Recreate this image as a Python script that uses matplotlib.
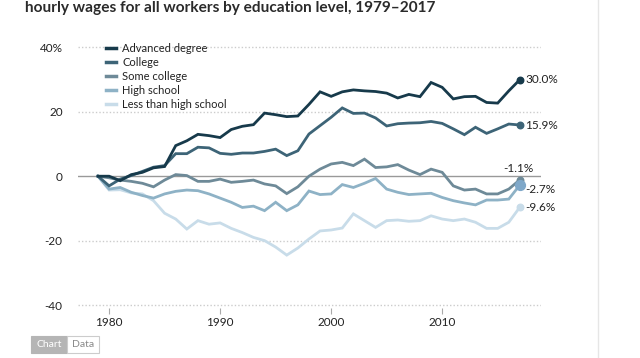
import numpy as np
import matplotlib
matplotlib.use('Agg')
import matplotlib.pyplot as plt
from matplotlib.patches import Rectangle
from matplotlib.lines import Line2D

plt.rcParams['font.family'] = ['Lato', 'DejaVu Sans']

years = np.arange(1979, 2018)

advanced = [0, 0, -1.4, 0.5, 1.2, 2.6, 3.0, 9.5, 11.0, 13.0, 12.6, 12.0, 14.5, 15.5, 16.0,
            19.6, 19.1, 18.5, 18.7, 22.3, 26.2, 24.8, 26.2, 26.8, 26.5, 26.3, 25.8, 24.3,
            25.4, 24.7, 29.1, 27.6, 24.0, 24.7, 24.8, 22.9, 22.7, 26.5, 30.0]
college = [0, -3.0, -0.9, 0.2, 1.5, 2.8, 3.3, 7.0, 7.0, 9.0, 8.8, 7.1, 6.8, 7.2, 7.2,
           7.7, 8.4, 6.4, 7.9, 13.1, 15.7, 18.3, 21.2, 19.5, 19.6, 18.1, 15.6, 16.3,
           16.5, 16.6, 17.0, 16.4, 14.7, 12.9, 15.2, 13.3, 14.7, 16.2, 15.9]
some_college = [0, -0.5, -1.2, -1.6, -2.2, -3.3, -1.2, 0.5, 0.2, -1.6, -1.6, -0.9, -1.9, -1.6,
                -1.2, -2.4, -3.0, -5.4, -3.3, 0.0, 2.2, 3.8, 4.3, 3.3, 5.3, 2.7, 2.9, 3.6,
                1.9, 0.5, 2.2, 1.2, -3.0, -4.3, -4.0, -5.5, -5.5, -4.0, -1.1]
high_school = [0, -4.0, -3.5, -5.0, -6.0, -6.8, -5.5, -4.7, -4.3, -4.5, -5.5, -6.8, -8.1, -9.7,
               -9.3, -10.7, -8.1, -10.7, -8.9, -4.6, -5.7, -5.5, -2.6, -3.5, -2.2, -0.7, -4.0,
               -5.0, -5.7, -5.5, -5.3, -6.6, -7.6, -8.3, -8.9, -7.4, -7.4, -7.1, -2.7]
less_hs = [0, -4.3, -4.2, -5.2, -5.5, -7.6, -11.5, -13.3, -16.4, -13.8, -14.9, -14.5, -16.2,
           -17.5, -19.0, -20.0, -22.0, -24.5, -22.3, -19.5, -17.0, -16.7, -16.1, -11.7, -13.8,
           -15.9, -13.8, -13.6, -14.0, -13.8, -12.3, -13.3, -13.8, -13.3, -14.3, -16.2, -16.2,
           -14.3, -9.6]

series_names = ['Advanced degree', 'College', 'Some college', 'High school', 'Less than high school']
series_values = [advanced, college, some_college, high_school, less_hs]
end_labels = ['30.0%', '15.9%', '-1.1%', '-2.7%', '-9.6%']
colors = ['#173a4b', '#3d6477', '#6e8a98', '#8eb2c6', '#c8dce9']
dot_colors = ['#173a4b', '#3d6477', '#6e8a98', '#7fa8c9', '#c8dce9']
dot_sizes = [22, 22, 22, 50, 22]

yticks = [-40, -20, 0, 20, 40]
ytick_labels = ['-40', '-20', '0', '20', '40%']
xticks = [1980, 1990, 2000, 2010]

fig = plt.figure(figsize=(6.4, 3.58), dpi=100)
ax = fig.add_axes([0.1219, 0.130, 0.7234, 0.7556])

for y in [-40, -20, 20, 40]:
    ax.axhline(y, color='#cccccc', lw=1, ls=(0, (1, 1.5)), zorder=0)
ax.axhline(0, color='#999999', lw=1, zorder=0)

# lightest first so the dark lines sit on top
for name, vals, col in reversed(list(zip(series_names, series_values, colors))):
    ax.plot(years, vals, color=col, lw=2, solid_joinstyle='miter', zorder=2, label=name)
for vals, col, sz in zip(series_values, dot_colors, dot_sizes):
    ax.scatter([years[-1]], [vals[-1]], s=sz, color=col, zorder=3)

# end labels
offsets = {'30.0%': (4, 0, 'left'), '15.9%': (4, 0, 'left'), '-1.1%': (-1, 8, 'center'),
           '-2.7%': (4, -3, 'left'), '-9.6%': (4, 0, 'left')}
for lab, vals in zip(end_labels, series_values):
    dx, dy, ha = offsets[lab]
    ax.annotate(lab, (years[-1], vals[-1]), xytext=(dx, dy), textcoords='offset points',
                ha=ha, va='center', fontsize=8.5, color='#222222')

ax.set_xlim(1977.2, 2018.9)
ax.set_ylim(-42, 42)
ax.set_yticks(yticks)
ax.set_yticklabels(ytick_labels)
ax.set_xticks(xticks)
ax.tick_params(axis='y', length=0, pad=11, labelsize=8.5, labelcolor='#222222')
ax.tick_params(axis='x', length=4, width=0.8, color='#aaaaaa', direction='inout',
               pad=2, labelsize=8.5, labelcolor='#222222')
for s in ax.spines.values():
    s.set_visible(False)

handles = [Line2D([0], [0], color=c, lw=2.5) for c in colors]
leg = ax.legend(handles, series_names, loc='upper left', bbox_to_anchor=(0.05, 1.01),
                frameon=False, fontsize=8, handlelength=0.9, handletextpad=0.6,
                labelspacing=0.28, borderaxespad=0)
for t in leg.get_texts():
    t.set_color('#222222')

fig.text(0.039, 0.978, 'hourly wages for all workers by education level, 1979\u20132017',
         fontsize=11.1, fontweight='bold', color='#2b2b2b', va='center', ha='left')

# page border on the right
fig.add_artist(Line2D([598 / 640, 598 / 640], [0, 1], color='#e6e6e6', lw=1))

# Chart / Data toggle
fig.add_artist(Rectangle((31 / 640, 1 - 353 / 358), 36 / 640, 17 / 358, facecolor='#b5b5b5',
                         edgecolor='#b5b5b5', lw=0.8))
fig.add_artist(Rectangle((67 / 640, 1 - 353 / 358), 32 / 640, 17 / 358, facecolor='white',
                         edgecolor='#cccccc', lw=0.8))
fig.text(49 / 640, 1 - 344.5 / 358, 'Chart', fontsize=7.5, color='white', ha='center', va='center')
fig.text(83 / 640, 1 - 344.5 / 358, 'Data', fontsize=7.5, color='#888888', ha='center', va='center')

fig.savefig('out.png', dpi=100)
